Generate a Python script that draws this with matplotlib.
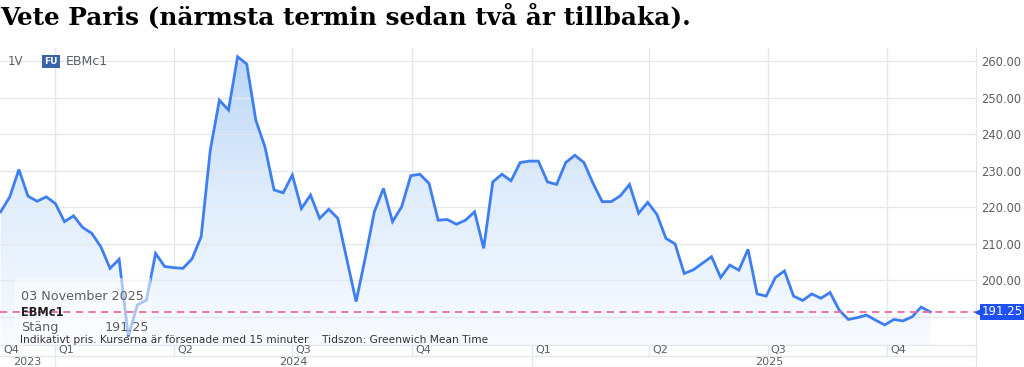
import numpy as np
import pandas as pd
import matplotlib
matplotlib.use("Agg")
import matplotlib.pyplot as plt
import matplotlib.dates as mdates
import matplotlib.transforms as mtrans
from matplotlib.colors import LinearSegmentedColormap
from matplotlib.patches import Rectangle

# ---------------------------------------------------------------- data (weekly close, EBMc1)
dates = pd.date_range("2023-11-20", periods=103, freq="7D")
prices = [
    218.7, 222.8, 230.3, 223.0, 221.6, 222.8, 221.0, 216.0, 217.6, 214.4,
    212.8, 209.1, 203.2, 205.7, 184.5, 193.2, 194.5, 207.3, 203.7, 203.4,
    203.2, 205.8, 211.9, 235.6, 249.3, 246.6, 261.2, 259.2, 243.8, 236.5,
    224.7, 223.9, 228.8, 219.6, 223.3, 216.9, 219.4, 216.9, 205.5, 194.1,
    206.0, 218.7, 225.1, 216.0, 220.1, 228.6, 229.0, 226.5, 216.4, 216.6,
    215.3, 216.4, 218.7, 208.7, 226.9, 229.0, 227.2, 232.2, 232.6, 232.6,
    226.9, 226.2, 232.2, 234.2, 232.2, 226.5, 221.5, 221.5, 223.1, 226.2,
    218.3, 221.3, 218.0, 211.4, 209.9, 201.8, 202.8, 204.6, 206.4, 200.7,
    204.1, 202.7, 208.4, 196.2, 195.6, 200.7, 202.5, 195.6, 194.4, 196.2,
    195.0, 196.6, 191.8, 189.2, 189.7, 190.4, 189.0, 187.7, 189.2, 188.8,
    189.9, 192.6, 191.25,
]
last_price = 191.25

y_ticks = [190, 200, 210, 220, 230, 240, 250, 260]
y_labels = ["", "200.00", "210.00", "220.00", "230.00", "240.00", "250.00", "260.00"]

quarter_starts = pd.to_datetime(["2023-10-01", "2024-01-01", "2024-04-01", "2024-07-01",
                                 "2024-10-01", "2025-01-01", "2025-04-01", "2025-07-01",
                                 "2025-10-01"])
quarter_labels = ["Q4", "Q1", "Q2", "Q3", "Q4", "Q1", "Q2", "Q3", "Q4"]
years = [2023, 2024, 2025]

TITLE = "Vete Paris (närmsta termin sedan två år tillbaka)."
NOTE = "Indikativt pris. Kurserna är försenade med 15 minuter    Tidszon: Greenwich Mean Time"

LINE_C = "#3d7ff2"
GRID_C = "#e3e8ec"
TXT_C = "#5a5f64"
SANS = ["DejaVu Sans"]

# ---------------------------------------------------------------- figure
fig = plt.figure(figsize=(10.24, 3.67), dpi=100)
ax = fig.add_axes([0.0, 22 / 367, 976 / 1024, 297 / 367])

x0 = mdates.date2num(pd.Timestamp("2023-11-20")) - 0.5
x1 = x0 + 976 / 1.302
y0, y1 = 182.2, 263.6

# gradient area under line
poly = ax.fill_between(mdates.date2num(dates), prices, y0, color="none", lw=0)
grad = np.linspace(0, 1, 256).reshape(-1, 1)
cmap = LinearSegmentedColormap.from_list("g", ["#f8fbff", "#e0edfc", "#bad5f7"])
im = ax.imshow(grad, extent=[x0, x1, y0, y1], aspect="auto", cmap=cmap,
               origin="lower", zorder=1)
im.set_clip_path(poly.get_paths()[0], transform=ax.transData)

ax.plot(mdates.date2num(dates), prices, color=LINE_C, lw=2.0, zorder=3,
        solid_joinstyle="miter")

ax.set_xlim(x0, x1)
ax.set_ylim(y0, y1)

# grid
for q in quarter_starts:
    ax.axvline(mdates.date2num(q), color=GRID_C, lw=1, zorder=0)
ax.set_yticks(y_ticks, y_labels)
ax.yaxis.tick_right()
ax.tick_params(axis="y", length=0, pad=4, labelsize=8.3, labelcolor=TXT_C)
for lab in ax.get_yticklabels():
    lab.set_family(SANS)
ax.grid(axis="y", color=GRID_C, lw=1, zorder=0)
ax.set_xticks([])
for s in ("top", "left", "bottom"):
    ax.spines[s].set_visible(False)
ax.spines["right"].set_color("#dfe5ea")
ax.spines["right"].set_bounds(y0 - 25, y1)

# tooltip box (semi transparent)
ax.add_patch(Rectangle((0.015, 0.035), 0.14, 0.19, transform=ax.transAxes,
                       facecolor="white", alpha=0.55, lw=0, zorder=4))
ax.text(0.022, 0.163, "03 November 2025", transform=ax.transAxes, fontsize=9.2,
        color=TXT_C, family=SANS, va="center", zorder=6)
ax.text(0.022, 0.108, "EBMc1", transform=ax.transAxes, fontsize=8.3,
        color="#222", weight="bold", family=SANS, va="center", zorder=6)
ax.text(0.022, 0.058, "Stäng", transform=ax.transAxes, fontsize=9.2,
        color=TXT_C, family=SANS, va="center", zorder=6)
ax.text(0.107, 0.058, f"{last_price:.2f}", transform=ax.transAxes, fontsize=9.2,
        color=TXT_C, family=SANS, va="center", zorder=6)
ax.text(0.02, 0.018, NOTE, transform=ax.transAxes, fontsize=7.7,
        color="#333", family=SANS, va="center", zorder=6)

# last price line and tag
ax.axhline(last_price, color="#f06b9b", lw=1.3, ls=(0, (4, 3)), zorder=5)
bt = mtrans.blended_transform_factory(ax.transAxes, ax.transData)
ax.text(1.006, last_price, f"{last_price:.2f}", transform=bt, fontsize=8.5,
        color="white", family=SANS, va="center", ha="left", zorder=7,
        bbox=dict(boxstyle="square,pad=0.12", fc="#1e50f5", ec="none"),
        clip_on=False)
ax.plot([1.002], [last_price], marker="<", ms=5, color="#1e50f5",
        transform=bt, clip_on=False, zorder=7)

# legend-ish header
ax.text(0.008, 0.955, "1V", transform=ax.transAxes, fontsize=8.5,
        color=TXT_C, family=SANS, va="center")
ax.text(0.045, 0.955, "FU", transform=ax.transAxes, fontsize=6.5, weight="bold",
        color="white", family=SANS, va="center",
        bbox=dict(boxstyle="square,pad=0.25", fc="#3a63a8", ec="none"))
ax.text(0.067, 0.955, "EBMc1", transform=ax.transAxes, fontsize=9,
        color=TXT_C, family=SANS, va="center")

# x label table (quarters / years)
xt = mtrans.blended_transform_factory(ax.transData, ax.transAxes)
for ry in (0.0, -0.037, -0.074):
    ax.plot([x0, x1], [ry, ry], color=GRID_C, lw=1, transform=xt, clip_on=False)
for q, lab in zip(quarter_starts, quarter_labels):
    qx = mdates.date2num(q)
    bottom = -0.074 if q.month == 1 else -0.037
    if qx > x0:
        ax.plot([qx, qx], [0, bottom], color=GRID_C, lw=1, transform=xt, clip_on=False)
    ax.text(max(qx, x0) + 2.5, -0.018, lab, transform=xt, fontsize=8,
            color=TXT_C, family=SANS, va="center", ha="left", clip_on=False)
for yr in years:
    a = max(mdates.date2num(pd.Timestamp(f"{yr}-01-01")), x0)
    b = mdates.date2num(pd.Timestamp(f"{yr + 1}-01-01"))
    ax.text((a + b) / 2, -0.056, str(yr), transform=xt, fontsize=8,
            color=TXT_C, family=SANS, va="center", ha="center", clip_on=False)

fig.text(0.0, 1 - 3 / 367, TITLE, fontsize=17.8, weight="bold",
         family=["DejaVu Serif"], va="top", ha="left")

fig.savefig("out.png", dpi=100, facecolor="white")
